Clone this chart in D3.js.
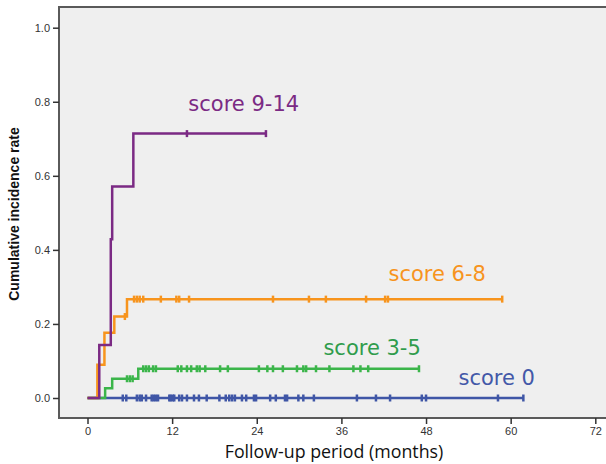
<!DOCTYPE html>
<html lang="en">
  <head>
    <meta charset="UTF-8" />
    <title>Cumulative incidence by score</title>
    <script src="https://d3js.org/d3.v7.min.js"></script>
    <style>
      body {
        margin: 0;
        background: #fff;
      }
      .tick text {
        font-family: "Liberation Sans", Arial, sans-serif;
        font-size: 11px;
        fill: #333;
      }
    </style>
  </head>
  <body>
    <svg width="606" height="464"></svg>
    <script>
      // x ticks and y ticks
      const xTicks = [0, 12, 24, 36, 48, 60, 72];
      const yTicks = [0, 0.2, 0.4, 0.6, 0.8, 1.0];

      // group labels
      const groups = ["score 0", "score 3-5", "score 6-8", "score 9-14"];

      // step points per group: [month, cumulative incidence]
      const score0Steps = [[0, 0]];
      const score0End = 61.8;
      const score0Censor = [
        5.0, 5.5, 7.0, 7.4, 7.7, 8.3, 9.1, 9.4, 9.7, 10.0, 11.6, 11.8, 12.1,
        12.3, 13.0, 13.4, 14.1, 15.1, 15.8, 16.9, 18.7, 19.6, 20.1, 20.5, 20.9,
        21.9, 22.5, 23.6, 23.9, 25.9, 26.7, 28.0, 28.3, 29.9, 30.6, 32.1, 38.2,
        40.9, 42.9, 47.4, 48.0, 58.2, 61.8,
      ];

      const score35Steps = [[0, 0], [2.5, 0.026], [3.5, 0.052], [7.2, 0.079]];
      const score35End = 47.0;
      const score35Censor = [
        5.6, 6.0, 6.4, 7.9, 8.3, 8.7, 9.3, 9.7, 12.8, 13.3, 14.1, 14.7, 15.5,
        15.9, 16.7, 18.8, 19.9, 24.3, 25.5, 26.3, 27.7, 29.7, 30.6, 31.0, 32.4,
        34.3, 37.7, 38.7, 39.8, 47.0,
      ];

      const score68Steps = [[0, 0], [1.4, 0.09], [2.4, 0.176], [3.8, 0.22], [5.6, 0.267]];
      const score68End = 58.8;
      const score68Censor = [
        5.3, 6.6, 7.0, 7.4, 7.9, 10.4, 12.6, 13.0, 14.4, 26.3, 31.4, 33.8, 39.5,
        42.2, 42.6, 58.8,
      ];

      const score914Steps = [[0, 0], [1.67, 0.143], [3.3, 0.429], [3.5, 0.571], [6.5, 0.714]];
      const score914End = 25.3;
      const score914Censor = [14.1, 25.3];

      const colors = ["#3f56a6", "#3bb54a", "#f7941d", "#7b2a84"];
      const textColors = ["#4358a8", "#2f9c4c", "#f7941d", "#7b2a84"];
      // label baseline anchor in data units (month, rate)
      const labelPos = [[52.6, 0.035], [33.45, 0.116], [42.67, 0.317], [14.3, 0.776]];

      const series = [
        { steps: score0Steps, end: score0End, censor: score0Censor },
        { steps: score35Steps, end: score35End, censor: score35Censor },
        { steps: score68Steps, end: score68End, censor: score68Censor },
        { steps: score914Steps, end: score914End, censor: score914Censor },
      ];

      const svg = d3.select("svg");

      const plot = { left: 59, top: 7, right: 606, bottom: 418 };

      const x = d3.scaleLinear().domain([0, 72]).range([87.5, 595.3]);
      const y = d3.scaleLinear().domain([0, 1]).range([398, 27.7]);

      // plot background
      svg
        .append("rect")
        .attr("x", plot.left)
        .attr("y", plot.top)
        .attr("width", plot.right - plot.left)
        .attr("height", plot.bottom - plot.top)
        .attr("fill", "#efefef");

      // frame lines (top, left, bottom)
      svg
        .append("path")
        .attr(
          "d",
          `M${plot.right},${plot.top}H${plot.left}V${plot.bottom}H${plot.right}`
        )
        .attr("fill", "none")
        .attr("stroke", "#5a5a5a")
        .attr("stroke-width", 2);

      // axes
      const xAxis = svg
        .append("g")
        .attr("transform", `translate(0,${plot.bottom})`)
        .call(
          d3
            .axisBottom(x)
            .tickValues(xTicks)
            .tickSize(6)
            .tickPadding(3)
            .tickFormat(d3.format("d"))
        );
      xAxis.select(".domain").remove();
      xAxis.selectAll(".tick line").attr("stroke", "#333").attr("stroke-width", 1.5);

      const yAxis = svg
        .append("g")
        .attr("transform", `translate(${plot.left},0)`)
        .call(
          d3
            .axisLeft(y)
            .tickValues(yTicks)
            .tickSize(6)
            .tickPadding(3)
            .tickFormat(d3.format(".1f"))
        );
      yAxis.select(".domain").remove();
      yAxis.selectAll(".tick line").attr("stroke", "#333").attr("stroke-width", 1.5);

      // step curves
      const line = d3
        .line()
        .x((d) => x(d[0]))
        .y((d) => y(d[1]))
        .curve(d3.curveStepAfter);

      series.forEach((s, i) => {
        const last = s.steps[s.steps.length - 1];
        const pts = s.steps.concat([[s.end, last[1]]]);
        const level = (t) => {
          let v = 0;
          s.steps.forEach((p) => {
            if (p[0] <= t) v = p[1];
          });
          return v;
        };

        svg
          .append("path")
          .datum(pts)
          .attr("fill", "none")
          .attr("stroke", colors[i])
          .attr("stroke-width", 2.5)
          .attr("d", line);

        svg
          .append("g")
          .selectAll("line")
          .data(s.censor)
          .join("line")
          .attr("x1", (d) => x(d))
          .attr("x2", (d) => x(d))
          .attr("y1", (d) => y(level(d)) - 3.5)
          .attr("y2", (d) => y(level(d)) + 3.5)
          .attr("stroke", colors[i])
          .attr("stroke-width", 2.5);

        svg
          .append("text")
          .attr("x", x(labelPos[i][0]))
          .attr("y", y(labelPos[i][1]))
          .attr("fill", textColors[i])
          .style("font-family", "'DejaVu Sans', sans-serif")
          .style("font-size", "21px")
          .text(groups[i]);
      });

      // axis titles
      svg
        .append("text")
        .attr("transform", "translate(19,214) rotate(-90)")
        .attr("text-anchor", "middle")
        .style("font-family", "'Liberation Sans Narrow', 'Liberation Sans', sans-serif")
        .style("font-weight", "bold")
        .style("font-size", "14px")
        .attr("fill", "#111")
        .text("Cumulative incidence rate");

      svg
        .append("text")
        .attr("x", 334)
        .attr("y", 458)
        .attr("text-anchor", "middle")
        .style("font-family", "'Open Sans', sans-serif")
        .style("font-size", "17.8px")
        .attr("fill", "#111")
        .text("Follow-up period (months)");
    </script>
  </body>
</html>
